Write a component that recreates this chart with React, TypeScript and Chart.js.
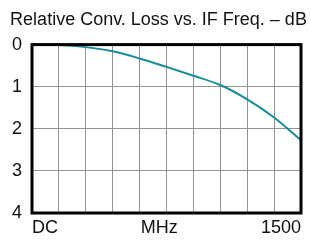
import React, { useEffect, useRef } from "react";
import { Chart, registerables } from "chart.js";

Chart.register(...registerables);

const TITLE = "Relative Conv. Loss vs. IF Freq. – dB";
const freqMHz = [0, 150, 300, 450, 600, 750, 900, 1050, 1200, 1350, 1500];
const lossDb = [0, 0.01, 0.06, 0.16, 0.33, 0.53, 0.74, 0.96, 1.3, 1.73, 2.27];
const gridMHz = [0, 150, 300, 450, 600, 750, 900, 1050, 1200, 1350, 1500];
const xLabelAt = [0, 710, 1500];
const xLabelText = ["DC", "MHz", "1500"];
const yTicks = [0, 1, 2, 3, 4];

const FONT = "'Liberation Sans', Arial, sans-serif";

const frame = {
  id: "frame",
  afterDraw(chart: any) {
    const { ctx, chartArea } = chart;
    ctx.save();
    ctx.strokeStyle = "#000";
    ctx.lineWidth = 3;
    ctx.strokeRect(
      chartArea.left,
      chartArea.top,
      chartArea.right - chartArea.left,
      chartArea.bottom - chartArea.top
    );
    ctx.restore();
  },
};

export default function App() {
  const ref = useRef<HTMLCanvasElement>(null);
  useEffect(() => {
    if (!ref.current) return;
    const tickValues = Array.from(new Set([...gridMHz, ...xLabelAt])).sort((a, b) => a - b);
    const chart = new Chart(ref.current, {
      type: "line",
      data: {
        datasets: [
          {
            data: freqMHz.map((f, i) => ({ x: f, y: lossDb[i] })),
            borderColor: "#178c9b",
            borderWidth: 2,
            pointRadius: 0,
            cubicInterpolationMode: "monotone",
            fill: false,
          },
        ],
      },
      options: {
        animation: false,
        responsive: false,
        layout: { padding: { left: 6, right: 0, top: 0, bottom: 0 } },
        plugins: {
          legend: { display: false },
          tooltip: { enabled: false },
          title: {
            display: true,
            text: TITLE,
            color: "#111",
            font: { family: FONT, size: 18, weight: "normal" },
            padding: { top: 9, bottom: 14 },
          },
        },
        scales: {
          x: {
            type: "linear",
            min: 0,
            max: 1500,
            afterBuildTicks: (scale: any) => {
              scale.ticks = tickValues.map((v) => ({ value: v }));
            },
            afterFit: (scale: any) => {
              scale.height = 27;
            },
            grid: {
              color: (c: any) =>
                c.tick && gridMHz.includes(c.tick.value) ? "#939393" : "rgba(0,0,0,0)",
              lineWidth: 1,
              drawTicks: false,
            },
            border: { display: false },
            ticks: {
              autoSkip: false,
              maxRotation: 0,
              align: "inner",
              padding: 4,
              color: "#111",
              font: { family: FONT, size: 18 },
              callback: (v: any) => {
                const i = xLabelAt.indexOf(v as number);
                return i >= 0 ? xLabelText[i] : "";
              },
            },
          },
          y: {
            type: "linear",
            reverse: true,
            min: 0,
            max: 4,
            afterBuildTicks: (scale: any) => {
              scale.ticks = yTicks.map((v) => ({ value: v }));
            },
            afterFit: (scale: any) => {
              scale.width = 26;
            },
            grid: { color: "#939393", lineWidth: 1, drawTicks: false },
            border: { display: false },
            ticks: {
              padding: 10,
              color: "#111",
              font: { family: FONT, size: 18 },
            },
          },
          yRight: {
            type: "linear",
            position: "right",
            min: 0,
            max: 4,
            afterFit: (scale: any) => {
              scale.width = 10;
            },
            grid: { display: false, drawTicks: false },
            border: { display: false },
            ticks: { display: false },
          },
        },
      },
      plugins: [frame],
    } as any);
    return () => chart.destroy();
  }, []);
  return (
    <div style={{ position: "fixed", left: 0, top: 0, width: 311, height: 240, background: "#fff" }}>
      <canvas ref={ref} width={311} height={240} />
    </div>
  );
}
